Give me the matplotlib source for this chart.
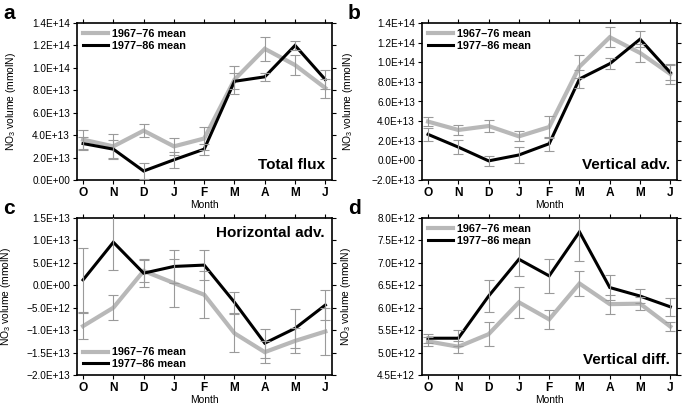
import matplotlib
matplotlib.use('Agg')
import matplotlib.pyplot as plt
from matplotlib.ticker import FuncFormatter, MultipleLocator

plt.rcParams['font.family'] = ['Liberation Sans', 'DejaVu Sans']
plt.rcParams['mathtext.fontset'] = 'custom'
plt.rcParams['mathtext.rm'] = 'Liberation Sans'

months = ['O', 'N', 'D', 'J', 'F', 'M', 'A', 'M', 'J']
legend_labels = ['1967\u201376 mean', '1977\u201386 mean']

# a: total flux (mmolN)
gray_a = [3.6e13, 3.0e13, 4.4e13, 3.0e13, 3.7e13, 8.95e13, 11.7e13, 10.25e13, 8.2e13]
gray_a_err = [0.85e13, 1.1e13, 0.55e13, 0.75e13, 1.05e13, 1.25e13, 1.05e13, 0.9e13, 0.85e13]
black_a = [3.25e13, 2.75e13, 0.8e13, 1.8e13, 2.75e13, 8.8e13, 9.2e13, 12.0e13, 8.95e13]
black_a_err = [0.6e13, 0.8e13, 0.75e13, 0.7e13, 0.5e13, 0.7e13, 0.35e13, 0.4e13, 0.85e13]

# b: vertical advection
gray_b = [3.95e13, 3.1e13, 3.5e13, 2.45e13, 3.4e13, 9.55e13, 12.55e13, 10.95e13, 8.8e13]
gray_b_err = [0.45e13, 0.5e13, 0.65e13, 0.5e13, 1.15e13, 1.2e13, 1.0e13, 0.95e13, 1.0e13]
black_b = [2.65e13, 1.35e13, -0.05e13, 0.55e13, 1.7e13, 8.3e13, 9.85e13, 12.35e13, 8.95e13]
black_b_err = [0.65e13, 0.7e13, 0.5e13, 0.8e13, 0.7e13, 0.9e13, 0.55e13, 0.8e13, 0.8e13]

# c: horizontal advection
gray_c = [-9.1e12, -5.0e12, 3.2e12, 0.5e12, -2.1e12, -10.7e12, -14.9e12, -12.4e12, -10.3e12]
gray_c_err = [2.9e12, 2.8e12, 2.4e12, 5.4e12, 5.3e12, 4.2e12, 2.5e12, 2.8e12, 5.3e12]
black_c = [1.2e12, 9.6e12, 2.7e12, 4.2e12, 4.5e12, -3.8e12, -12.9e12, -9.6e12, -4.4e12]
black_c_err = [7.1e12, 6.1e12, 3.1e12, 3.6e12, 3.4e12, 2.3e12, 3.2e12, 4.3e12, 3.4e12]

# d: vertical diffusion
gray_d = [5.25e12, 5.13e12, 5.41e12, 6.12e12, 5.74e12, 6.54e12, 6.08e12, 6.09e12, 5.58e12]
gray_d_err = [0.1e12, 0.13e12, 0.27e12, 0.34e12, 0.21e12, 0.27e12, 0.21e12, 0.14e12, 0.1e12]
black_d = [5.32e12, 5.32e12, 6.26e12, 7.08e12, 6.71e12, 7.69e12, 6.45e12, 6.26e12, 6.02e12]
black_d_err = [0.1e12, 0.18e12, 0.36e12, 0.37e12, 0.38e12, 0.64e12, 0.27e12, 0.15e12, 0.2e12]

GRAY = '#b8b8b8'
ERR = '#9a9a9a'


def sci_fmt(v, pos):
    s = f'{v:.1E}'
    if s.startswith('-'):
        s = '\u2212' + s[1:]
    return s


def panel(ax, letter, title, gray, gray_err, black, black_err, ylim, step,
          legend_loc, title_top, ylab_x):
    x = list(range(len(months)))
    ax.plot(x, gray, color=GRAY, lw=3.0, solid_joinstyle='miter',
            label=legend_labels[0], zorder=2)
    ax.plot(x, black, color='black', lw=2.2, solid_joinstyle='miter',
            label=legend_labels[1], zorder=3)
    ax.errorbar(x, gray, yerr=gray_err, fmt='none', ecolor=ERR, elinewidth=0.8,
                capsize=3.5, capthick=0.8, zorder=4)
    ax.errorbar(x, black, yerr=black_err, fmt='none', ecolor=ERR, elinewidth=0.8,
                capsize=3.5, capthick=0.8, zorder=4)

    ax.set_xlim(-0.2, 8.22)
    ax.set_ylim(*ylim)
    ax.yaxis.set_major_locator(MultipleLocator(step))
    ax.yaxis.set_major_formatter(FuncFormatter(sci_fmt))
    ax.set_xticks(x)
    ax.set_xticklabels(months, fontsize=8.6, fontweight='bold')
    ax.tick_params(axis='y', labelsize=7.2)
    ax.tick_params(direction='out', length=3, width=0.8, top=True, right=True, pad=2)
    for sp in ax.spines.values():
        sp.set_linewidth(1.2)

    ax.set_xlabel('Month', fontsize=7.4)
    ax.xaxis.set_label_coords(0.5, -0.128)
    ax.set_ylabel('NO$_\\mathregular{3}$ volume (mmolN)', fontsize=7.4)
    ax.yaxis.set_label_coords(ylab_x, 0.5)

    leg = ax.legend(loc=legend_loc, frameon=False, fontsize=7.8, handlelength=2.3,
                    handletextpad=0.4, labelspacing=0.15, borderaxespad=0.25,
                    borderpad=0.3)
    for t in leg.get_texts():
        t.set_fontweight('bold')

    if title_top:
        ax.text(0.972, 0.95, title, transform=ax.transAxes, ha='right', va='top',
                fontsize=11, fontweight='bold')
    else:
        ax.text(0.972, 0.05, title, transform=ax.transAxes, ha='right', va='bottom',
                fontsize=11, fontweight='bold')

    ax.text(-0.29, 1.0, letter, transform=ax.transAxes, ha='left', va='bottom',
            fontsize=15, fontweight='bold')


fig = plt.figure(figsize=(6.85, 4.04), dpi=100)
ax_a = fig.add_axes([77 / 685, 1 - 180 / 404, 255 / 685, 157 / 404])
ax_b = fig.add_axes([422 / 685, 1 - 180 / 404, 255 / 685, 157 / 404])
ax_c = fig.add_axes([77 / 685, 1 - 375 / 404, 255 / 685, 157 / 404])
ax_d = fig.add_axes([422 / 685, 1 - 375 / 404, 255 / 685, 157 / 404])

panel(ax_a, 'a', 'Total flux', gray_a, gray_a_err, black_a, black_a_err,
      (0, 1.4e14), 2e13, 'upper left', False, -0.231)
panel(ax_b, 'b', 'Vertical adv.', gray_b, gray_b_err, black_b, black_b_err,
      (-2e13, 1.4e14), 2e13, 'upper left', False, -0.263)
panel(ax_c, 'c', 'Horizontal adv.', gray_c, gray_c_err, black_c, black_c_err,
      (-2e13, 1.5e13), 5e12, 'lower left', True, -0.251)
panel(ax_d, 'd', 'Vertical diff.', gray_d, gray_d_err, black_d, black_d_err,
      (4.5e12, 8.0e12), 5e11, 'upper left', False, -0.27)

fig.savefig('out.png', dpi=100)
